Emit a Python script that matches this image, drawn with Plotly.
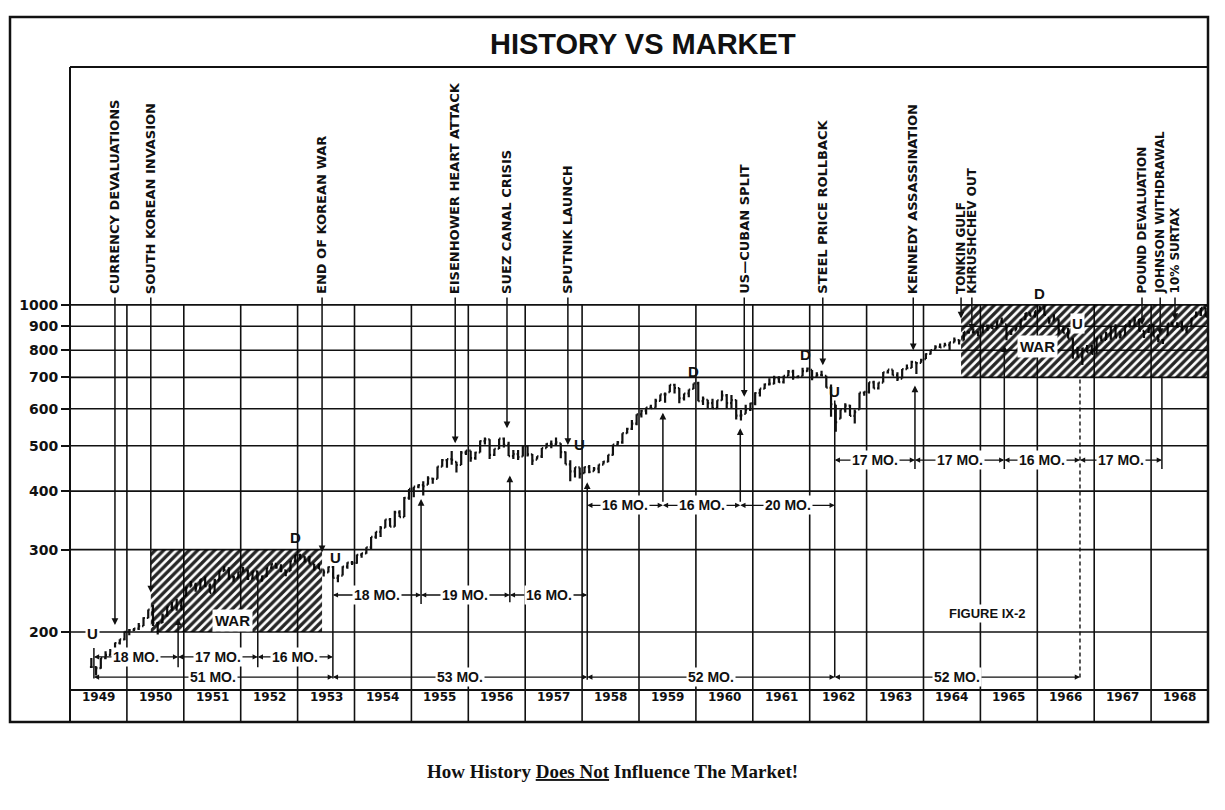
import numpy as np
import plotly.graph_objects as go

# ---------------- DATA ----------------
start_year, start_month = 1949, 5   # first monthly bar: May 1949

dj_high = [
    176.0, 169.0, 176.0, 182.0, 184.0, 190.0, 193.0, 200.5,
    203.0, 204.0, 209.0, 215.0, 223.4, 228.4, 210.0, 219.0, 226.8, 231.8, 235.5, 235.4,
    249.6, 257.0, 255.0, 259.3, 263.0, 254.0, 260.0, 270.3, 276.4, 275.0, 264.0, 269.2,
    275.4, 272.0, 269.5, 270.7, 264.0, 274.3, 280.3, 280.3, 279.0, 271.0, 283.7, 292.0,
    293.8, 290.2, 290.6, 280.0, 280.3, 272.0, 276.0, 276.7, 265.0, 276.3, 282.0, 283.5,
    292.9, 295.0, 303.5, 319.3, 327.6, 336.9, 348.0, 350.4, 363.3, 364.1, 388.5, 404.4,
    408.9, 413.8, 419.7, 430.6, 425.5, 451.4, 468.5, 468.2, 487.5, 462.0, 487.4, 488.4,
    488.2, 485.7, 513.0, 521.1, 516.4, 492.8, 517.8, 520.9, 509.8, 489.6, 490.0, 499.5,
    499.2, 480.0, 475.0, 494.4, 506.0, 513.2, 520.8, 506.0, 486.0, 465.8, 449.9, 449.6,
    451.2, 454.9, 450.2, 455.9, 463.7, 478.2, 503.0, 512.0, 532.1, 546.4, 567.4, 583.7,
    597.0, 603.5, 612.0, 629.9, 643.8, 650.0, 674.9, 678.1, 664.0, 646.6, 659.2, 679.4,
    685.5, 636.9, 627.0, 630.1, 625.5, 656.4, 645.0, 641.6, 627.0, 596.5, 612.0, 617.8,
    650.6, 662.1, 679.4, 696.7, 705.5, 703.8, 705.4, 725.8, 726.5, 706.7, 734.3, 734.9,
    726.0, 717.5, 723.5, 705.4, 675.5, 611.9, 597.9, 616.0, 612.0, 597.9, 649.3, 652.1,
    683.2, 688.9, 682.5, 718.5, 727.0, 726.9, 717.9, 729.3, 746.0, 760.0, 753.8, 767.2,
    787.8, 800.1, 820.3, 827.3, 830.2, 832.0, 851.3, 843.0, 875.4, 878.1, 891.7, 875.0,
    903.7, 906.3, 906.2, 922.3, 939.6, 908.5, 882.0, 895.0, 932.0, 960.8, 961.9, 969.3,
    995.2, 995.2, 938.0, 954.7, 931.3, 903.2, 894.0, 851.0, 814.3, 809.6, 820.9, 820.5,
    849.9, 861.0, 876.7, 897.1, 909.6, 879.5, 904.2, 926.7, 943.1, 933.2, 880.4, 905.1,
    908.9, 864.0, 841.8, 912.2, 919.9, 918.0, 923.7, 896.1, 935.8, 967.5, 985.1, 985.2,
]
dj_low = [
    168.0, 161.6, 167.0, 175.0, 178.0, 181.0, 188.0, 192.0,
    196.8, 201.0, 202.0, 206.0, 214.0, 206.0, 197.5, 209.0, 216.0, 222.0, 222.0, 222.3,
    238.9, 250.0, 243.9, 247.0, 250.0, 242.6, 243.0, 258.0, 270.0, 258.7, 256.0, 261.0,
    268.6, 258.5, 259.6, 257.6, 256.4, 262.5, 273.0, 273.0, 268.4, 263.1, 270.0, 281.6,
    285.6, 281.7, 279.9, 270.7, 272.3, 262.9, 268.0, 261.2, 255.5, 264.0, 272.9, 278.3,
    279.9, 288.3, 294.0, 300.2, 316.4, 319.3, 334.1, 335.8, 335.8, 352.1, 352.1, 383.6,
    388.2, 405.7, 391.4, 412.9, 415.0, 424.9, 451.0, 448.8, 455.6, 438.6, 454.9, 478.0,
    462.4, 466.6, 483.7, 503.0, 468.8, 475.3, 491.9, 495.9, 475.3, 468.4, 466.1, 474.3,
    474.6, 454.8, 467.2, 471.0, 494.4, 494.0, 500.0, 470.0, 456.3, 419.8, 427.9, 425.7,
    437.0, 436.9, 441.1, 436.9, 455.9, 461.0, 476.9, 502.0, 505.0, 530.9, 540.5, 553.4,
    574.5, 583.0, 601.0, 602.9, 623.0, 617.6, 650.9, 646.4, 616.5, 625.0, 634.5, 661.3,
    622.6, 611.3, 599.1, 601.7, 599.6, 624.9, 601.7, 601.7, 569.1, 566.1, 585.2, 593.5,
    610.3, 637.0, 661.1, 672.7, 677.0, 681.5, 679.3, 705.0, 691.9, 697.2, 703.9, 720.1,
    689.9, 702.5, 706.0, 665.3, 576.9, 535.8, 571.2, 589.1, 579.0, 558.1, 597.9, 639.8,
    646.8, 662.9, 659.7, 682.5, 713.6, 706.9, 687.7, 696.0, 729.0, 733.0, 711.5, 751.8,
    766.1, 783.0, 802.8, 808.9, 815.7, 800.3, 831.5, 823.4, 839.6, 867.9, 869.0, 857.5,
    869.8, 880.0, 887.8, 891.9, 914.0, 840.6, 861.8, 881.8, 893.5, 929.7, 946.1, 939.5,
    968.5, 950.5, 911.1, 924.8, 864.0, 870.1, 847.4, 767.0, 772.7, 744.3, 791.6, 785.7,
    786.4, 836.6, 841.8, 842.4, 852.6, 847.8, 859.7, 893.7, 901.2, 879.7, 849.6, 870.6,
    855.5, 831.8, 825.1, 861.3, 898.4, 894.8, 883.0, 869.7, 900.4, 942.3, 946.2, 943.8,
]
dj_close = [
    168.4, 167.4, 175.9, 178.7, 182.5, 189.5, 193.0, 200.1,
    201.8, 203.4, 206.0, 214.3, 223.4, 209.1, 209.4, 216.9, 226.4, 225.0, 227.6, 235.4,
    248.8, 252.1, 247.9, 259.1, 250.6, 242.6, 257.9, 270.3, 271.2, 262.4, 261.3, 269.2,
    270.7, 260.1, 269.5, 257.6, 262.9, 274.3, 279.6, 275.0, 271.0, 269.2, 283.7, 291.9,
    289.8, 284.3, 279.9, 274.8, 272.3, 268.3, 275.4, 261.2, 264.0, 276.0, 281.4, 280.9,
    292.4, 294.5, 303.5, 319.3, 327.5, 333.5, 347.9, 335.8, 360.5, 352.1, 386.8, 404.4,
    408.8, 411.9, 409.7, 425.7, 424.9, 451.4, 465.9, 468.2, 466.6, 454.9, 483.3, 488.4,
    470.7, 483.7, 511.8, 516.1, 478.1, 492.8, 517.8, 502.0, 475.3, 479.9, 472.8, 499.5,
    479.2, 464.6, 474.8, 494.4, 504.9, 503.3, 508.5, 484.4, 456.3, 441.0, 449.9, 435.7,
    450.0, 439.9, 446.8, 455.9, 462.7, 478.2, 503.0, 508.6, 532.1, 543.3, 557.5, 583.7,
    594.0, 603.5, 601.7, 623.8, 643.8, 643.6, 674.9, 664.4, 631.7, 646.6, 659.2, 679.4,
    622.6, 630.1, 616.6, 601.7, 625.5, 640.6, 616.7, 626.0, 580.1, 580.4, 597.2, 615.9,
    648.2, 662.1, 676.6, 678.7, 696.7, 684.0, 705.4, 719.9, 701.2, 703.9, 721.6, 731.1,
    700.0, 708.1, 707.0, 665.3, 613.4, 561.3, 597.9, 609.2, 579.0, 589.8, 649.3, 652.1,
    682.9, 662.9, 682.5, 717.7, 727.0, 706.9, 695.4, 729.3, 732.8, 755.2, 750.5, 763.0,
    785.3, 800.1, 813.3, 810.8, 820.6, 831.5, 841.1, 838.5, 875.4, 873.1, 875.4, 874.1,
    902.9, 903.5, 889.1, 922.3, 918.0, 868.0, 882.0, 893.1, 930.6, 960.8, 946.7, 969.3,
    983.5, 951.9, 924.8, 933.7, 884.1, 870.1, 847.4, 788.4, 774.2, 807.1, 791.6, 785.7,
    849.9, 839.4, 866.0, 897.1, 852.6, 860.3, 904.2, 901.3, 926.7, 879.7, 875.8, 905.1,
    855.5, 840.5, 840.7, 912.2, 899.0, 897.8, 883.0, 896.0, 935.8, 952.4, 985.1, 943.8,
]

years = list(range(1949, 1969))
y_ticks = [200, 300, 400, 500, 600, 700, 800, 900, 1000]

event_labels = ["CURRENCY DEVALUATIONS", "SOUTH KOREAN INVASION", "END OF KOREAN WAR",
                "EISENHOWER HEART ATTACK", "SUEZ CANAL CRISIS", "SPUTNIK LAUNCH",
                "US\u2014CUBAN SPLIT", "STEEL PRICE ROLLBACK", "KENNEDY ASSASSINATION",
                "TONKIN GULF", "KHRUSHCHEV OUT", "POUND DEVALUATION",
                "JOHNSON WITHDRAWAL", "10% SURTAX"]
event_x = [1949.79, 1950.42, 1953.43, 1955.77, 1956.68, 1957.75, 1960.85, 1962.23,
           1963.82, 1964.66, 1964.85, 1967.84, 1968.16, 1968.42]
event_target = [207, 243, 296, 506, 545, 502, 636, 743, 800, 935, 880, 906, 862, 928]

war_start = [1950.42, 1964.66]
war_end = [1953.43, 1969.0]
war_low = [200, 700]
war_high = [300, 1000]
war_label_x = [1951.86, 1966.01]
war_label_y = [212, 814]

# cycle turning points and month counts between them
cycle_x = [1949.42, 1950.90, 1952.30, 1953.62, 1955.17, 1956.73, 1958.09,
           1959.42, 1960.78, 1962.44, 1963.85, 1965.42, 1966.75, 1968.19]
cycle_months = [18, 17, 16, 18, 19, 16, 16, 16, 20, 17, 17, 16, 17]
cycle_row_level = [177, 177, 177, 240, 240, 240, 373, 373, 373, 466, 466, 466, 466]
long_cycle_from = [0, 3, 6, 9]
long_cycle_to = [3, 6, 9, 12]
long_cycle_months = [51, 53, 52, 52]
long_row_level = 160.3
# vertical tick lines at cycle points (top, bottom, arrow up?)
cycle_top = [185, 214, 268, 268, 385, 432, 418, 588, 545, 625, 673, 820, 702, 700]
cycle_bot = [158, 167, 167, 158, 228, 230, 157, 377, 377, 159, 443, 443, 160, 443]
cycle_up = [0, 1, 0, 0, 1, 1, 1, 1, 1, 0, 1, 1, 0, 0]

turn_letters = ["U", "D", "U", "U", "D", "D", "U", "D", "U"]
turn_x = [1949.39, 1952.97, 1953.66, 1957.95, 1959.95, 1961.92, 1962.44, 1966.03, 1966.71]
turn_y = [199, 318, 289, 502, 722, 785, 652, 1056, 912]
turn_bg = [1, 0, 0, 0, 0, 0, 0, 0, 1]

# ---------------- GEOMETRY ----------------
W, H = 1225, 810
ML, MR, MT, MB = 70, 17, 67, 88
PW, PH = W - ML - MR, H - MT - MB
Y_LOG_MIN, Y_LOG_MAX = 2.10885, 3.5082
Y_MIN = 10 ** Y_LOG_MIN


def px(x):
    return (x - ML) / PW


def py(y):
    return (H - MB - y) / PH


def L(v):
    return float(np.log10(v))


TXT = "Liberation Sans"
NUM = "DejaVu Sans"
BLACK = "#111111"

n = len(dj_close)
month_x = [start_year + (start_month - 1 + i + 0.5) / 12 for i in range(n)]
prev = [dj_close[0]] + dj_close[:-1]
dj_open = [min(max(p, lo), hi) for p, lo, hi in zip(prev, dj_low, dj_high)]

fig = go.Figure()

# grid lines
gx, gy = [], []
for v in y_ticks:
    gx += [1949, 1969, None]
    gy += [v, v, None]
for yr in years[1:]:
    gx += [yr, yr, None]
    gy += [Y_MIN, 1000, None]
fig.add_trace(go.Scatter(x=gx, y=gy, mode="lines", line=dict(color=BLACK, width=1.6),
                         hoverinfo="skip", showlegend=False))

# war hatching
for s, e, lo, hi in zip(war_start, war_end, war_low, war_high):
    fig.add_trace(go.Scatter(x=[s, e, e, s, s], y=[lo, lo, hi, hi, lo], mode="lines",
                             line=dict(width=0), fill="toself",
                             fillcolor="rgba(0,0,0,0)",
                             fillpattern=dict(shape="/", fgcolor="#000", fgopacity=0.85,
                                              bgcolor="rgba(255,255,255,0)",
                                              size=6, solidity=0.55),
                             hoverinfo="skip", showlegend=False))

# dashed cycle line
for i in range(len(cycle_x)):
    if cycle_x[i] == 1966.75:
        fig.add_trace(go.Scatter(x=[cycle_x[i], cycle_x[i]], y=[cycle_bot[i], cycle_top[i]],
                                 mode="lines", line=dict(color=BLACK, width=1.4, dash="4px,3px"),
                                 hoverinfo="skip", showlegend=False))

# DJIA monthly bars
fig.add_trace(go.Ohlc(x=month_x, open=dj_open, high=dj_high, low=dj_low, close=dj_close,
                      increasing=dict(line=dict(color=BLACK, width=2.2)),
                      decreasing=dict(line=dict(color=BLACK, width=2.2)),
                      tickwidth=0.3, hoverinfo="skip", showlegend=False))

ann = []

# event labels and arrows
for lab, ex, et in zip(event_labels, event_x, event_target):
    tight = ex > 1964.5
    ann.append(dict(x=ex, y=L(et), ax=ex, ay=L(1045), xref="x", yref="y", axref="x", ayref="y",
                    text="", showarrow=True, arrowhead=2, arrowsize=0.9, arrowwidth=1.5,
                    arrowcolor=BLACK, standoff=0, startstandoff=0))
    ann.append(dict(x=ex, y=L(1045), xref="x", yref="y", text=lab, textangle=-90,
                    showarrow=False, xanchor="center", yanchor="bottom",
                    font=dict(family=NUM, size=12 if tight else 13, color=BLACK, weight="bold")))

# cycle vertical ticks
for cx, ct, cb, cu in zip(cycle_x, cycle_top, cycle_bot, cycle_up):
    if cx == 1966.75:
        continue
    ann.append(dict(x=cx, y=L(ct), ax=cx, ay=L(cb), xref="x", yref="y", axref="x", ayref="y",
                    text="", showarrow=True, arrowhead=2 if cu else 0, arrowsize=0.9,
                    arrowwidth=1.5, arrowcolor=BLACK, standoff=0, startstandoff=0))

# cycle horizontal arrows
seg_text = []
for i, m in enumerate(cycle_months):
    x1, x2, yv = cycle_x[i], cycle_x[i + 1], cycle_row_level[i]
    mid = (x1 + x2) / 2
    for end in (x1, x2):
        ann.append(dict(x=end, y=L(yv), ax=mid, ay=L(yv), xref="x", yref="y", axref="x", ayref="y",
                        text="", showarrow=True, arrowhead=2, arrowsize=0.8, arrowwidth=1.3,
                        arrowcolor=BLACK, standoff=0, startstandoff=0))
    seg_text.append((mid, yv, f"{m} MO."))
for a, b, m in zip(long_cycle_from, long_cycle_to, long_cycle_months):
    x1, x2 = cycle_x[a], cycle_x[b]
    mid = (x1 + x2) / 2
    for end in (x1, x2):
        ann.append(dict(x=end, y=L(long_row_level), ax=mid, ay=L(long_row_level), xref="x", yref="y",
                        axref="x", ayref="y", text="", showarrow=True, arrowhead=2, arrowsize=0.8,
                        arrowwidth=1.3, arrowcolor=BLACK, standoff=0, startstandoff=0))
    seg_text.append((mid, long_row_level, f"{m} MO."))
for mid, yv, t in seg_text:
    ann.append(dict(x=mid, y=L(yv), xref="x", yref="y", text=t, showarrow=False,
                    bgcolor="white", borderpad=1,
                    font=dict(family=TXT, size=14, color=BLACK, weight="bold")))

# turning letters
for t, tx, ty, bg in zip(turn_letters, turn_x, turn_y, turn_bg):
    ann.append(dict(x=tx, y=L(ty), xref="x", yref="y", text=t, showarrow=False,
                    bgcolor="white" if bg else "rgba(0,0,0,0)", borderpad=1,
                    font=dict(family=TXT, size=15, color=BLACK, weight="bold")))

# war labels
for wx, wy in zip(war_label_x, war_label_y):
    ann.append(dict(x=wx, y=L(wy), xref="x", yref="y", text="WAR", showarrow=False,
                    bgcolor="white", borderpad=2,
                    font=dict(family=TXT, size=15, color=BLACK, weight="bold")))

ann.append(dict(x=1965.12, y=L(219), xref="x", yref="y", text="FIGURE IX-2", showarrow=False,
                bgcolor="white", font=dict(family=TXT, size=13, color=BLACK, weight="bold")))

# year labels
for yr in years:
    ann.append(dict(x=yr + 0.5, y=py(706), xref="x", yref="paper", text=str(yr), showarrow=False,
                    font=dict(family=NUM, size=12, color=BLACK, weight="bold")))

# title and caption
ann.append(dict(x=px(643), y=py(44), xref="paper", yref="paper", text="HISTORY VS MARKET",
                showarrow=False, xanchor="center", yanchor="middle",
                font=dict(family=TXT, size=29, color=BLACK, weight="bold")))
ann.append(dict(x=px(612), y=py(772), xref="paper", yref="paper",
                text="How History <u>Does Not</u> Influence The Market!",
                showarrow=False, xanchor="center", yanchor="middle",
                font=dict(family="Liberation Serif", size=19, color=BLACK, weight="bold")))

shapes = [
    dict(type="rect", xref="paper", yref="paper", x0=px(10), x1=1, y0=0, y1=py(17),
         line=dict(color=BLACK, width=2.5)),
    dict(type="line", xref="paper", yref="paper", x0=0, x1=1, y0=1, y1=1,
         line=dict(color=BLACK, width=2)),
    dict(type="line", xref="paper", yref="paper", x0=0, x1=0, y0=0, y1=1,
         line=dict(color=BLACK, width=2)),
    dict(type="line", xref="paper", yref="paper", x0=0, x1=1, y0=py(690), y1=py(690),
         line=dict(color=BLACK, width=1.8)),
]

fig.update_layout(
    width=W, height=H,
    margin=dict(l=ML, r=MR, t=MT, b=MB),
    paper_bgcolor="white", plot_bgcolor="white",
    showlegend=False,
    annotations=ann, shapes=shapes,
    xaxis=dict(range=[1949, 1969], showgrid=False, zeroline=False, showline=False,
               showticklabels=False, ticks="", rangeslider=dict(visible=False), fixedrange=True),
    yaxis=dict(type="log", range=[Y_LOG_MIN, Y_LOG_MAX], tickvals=y_ticks,
               ticktext=[str(v) for v in y_ticks], ticks="outside", ticklen=8, tickwidth=2,
               tickcolor=BLACK, showgrid=False, zeroline=False, showline=False,
               tickfont=dict(family=NUM, size=14, color=BLACK, weight="bold"), fixedrange=True),
)

fig.write_html("out.html")
